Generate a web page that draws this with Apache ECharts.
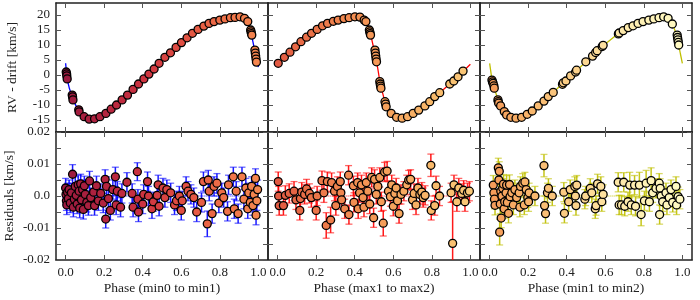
<!DOCTYPE html>
<html><head><meta charset="utf-8">
<script src="https://cdn.jsdelivr.net/npm/echarts@6/dist/echarts.min.js"></script>
<style>html,body{margin:0;padding:0;background:#fff}#c{width:700px;height:300px}</style>
</head><body><div id="c"></div>
<script>
// ---------------- data ----------------
const xTicks = [0, 0.2, 0.4, 0.6, 0.8, 1.0];
const rvTicks = [-15, -10, -5, 0, 5, 10, 15, 20];
const resTicks = [-0.02, -0.015, -0.01, -0.005, 0, 0.005, 0.01, 0.015, 0.02];
const resLabelTicks = [-0.02, -0.01, 0, 0.01, 0.02];
const panelTitles = ['Phase (min0 to min1)', 'Phase (max1 to max2)', 'Phase (min1 to min2)'];
const rvName = 'RV - drift [km/s]';
const resName = 'Residuals [km/s]';

// RV points [phase, km/s]
const rv1 = [[0.003,1.0],[0.005,0.4],[0.006,-0.3],[0.008,-1.3],[0.034,-6.7],[0.036,-7.3],[0.038,-8.3],
[0.068,-11.6],[0.070,-12.3],[0.096,-13.9],[0.122,-14.7],[0.150,-14.6],[0.178,-13.9],[0.209,-12.8],[0.236,-11.4],
[0.264,-10.0],[0.293,-8.3],[0.321,-6.7],[0.350,-4.8],[0.378,-3.0],[0.406,-1.3],[0.432,0.3],[0.459,2.0],[0.485,3.9],
[0.515,5.9],[0.544,7.4],[0.573,9.2],[0.601,10.8],[0.630,12.4],[0.658,13.9],[0.687,15.2],[0.717,16.3],[0.744,17.2],
[0.770,17.8],[0.800,18.3],[0.827,18.7],[0.855,19.1],[0.879,19.2],[0.905,19.4],[0.928,18.9],[0.945,17.8],
[0.960,15.0],[0.962,14.4],[0.964,13.8],[0.966,13.3],[0.982,8.3],[0.984,7.3],[0.986,6.3],[0.988,5.3],[0.990,4.3]];
const rv2 = [[0.003,3.9],[0.035,5.9],[0.064,7.6],[0.093,9.4],[0.121,11.1],[0.150,12.6],[0.176,13.9],[0.205,15.2],
[0.233,16.4],[0.259,17.2],[0.289,17.9],[0.314,18.3],[0.344,18.8],[0.371,19.1],[0.401,19.4],[0.427,19.3],[0.449,18.3],
[0.458,17.8],[0.476,15.0],[0.478,14.4],[0.480,13.8],[0.482,13.3],[0.505,8.3],[0.507,7.3],[0.509,6.3],[0.511,5.3],
[0.513,4.4],[0.530,-2.2],[0.532,-3.0],[0.534,-3.7],[0.536,-4.4],[0.557,-8.9],[0.560,-9.7],[0.563,-10.6],
[0.589,-12.8],[0.617,-14.1],[0.646,-14.4],[0.674,-13.9],[0.703,-12.8],[0.732,-11.7],[0.764,-10.3],[0.789,-8.9],
[0.815,-7.2],[0.841,-5.9],[0.893,-3.0],[0.914,-2.0],[0.936,-0.6],[0.962,1.3]];
const rv3 = [[0.012,-1.7],[0.015,-2.3],[0.018,-2.8],[0.022,-3.6],[0.024,-4.4],[0.043,-8.3],[0.045,-8.9],[0.047,-9.4],
[0.057,-10.3],[0.076,-12.2],[0.088,-13.3],[0.110,-14.1],[0.137,-14.4],[0.166,-14.1],[0.195,-13.1],[0.221,-12.0],
[0.252,-10.3],[0.282,-8.7],[0.304,-7.2],[0.330,-5.8],[0.378,-3.1],[0.382,-2.6],[0.396,-2.0],[0.420,-0.3],[0.446,1.0],
[0.451,1.6],[0.499,4.4],[0.534,6.3],[0.550,7.5],[0.558,8.1],[0.584,9.5],[0.589,9.9],[0.668,13.7],[0.672,14.0],
[0.693,14.8],[0.719,15.8],[0.744,16.4],[0.770,17.2],[0.796,17.8],[0.826,18.3],[0.852,18.7],[0.879,19.1],[0.903,19.4],
[0.926,18.9],[0.948,17.0],[0.973,13.3],[0.975,12.5],[0.977,11.7],[0.979,10.9],[0.981,10.0]];

// model curves [phase, km/s]
const model1 = [[0.0,3.9],[0.005,0.3],[0.012,-2.5],[0.02,-4.6],[0.036,-7.5],[0.05,-9.8],[0.069,-12],[0.085,-13.3],
[0.1,-14.1],[0.122,-14.7],[0.14,-14.8],[0.16,-14.5],[0.18,-13.9],[0.21,-12.8],[0.25,-10.7],[0.3,-7.9],[0.35,-4.8],
[0.4,-1.6],[0.45,1.5],[0.5,4.9],[0.55,7.8],[0.6,10.7],[0.65,13.4],[0.7,15.7],[0.75,17.3],[0.8,18.3],[0.85,19.0],
[0.88,19.3],[0.905,19.4],[0.925,19.0],[0.94,18.2],[0.95,16.8],[0.96,14.7],[0.97,11.6],[0.98,8.5],[0.99,5.6],[1.0,2.6]];
const model2 = [[0.0,3.6],[0.05,6.8],[0.1,9.8],[0.15,12.6],[0.2,15.0],[0.25,16.9],[0.3,18.1],[0.35,18.9],[0.4,19.4],
[0.425,19.4],[0.445,18.9],[0.46,17.9],[0.47,16.4],[0.48,14.2],[0.49,11.4],[0.5,8.5],[0.51,5.7],[0.52,2.0],[0.53,-2.0],
[0.54,-4.9],[0.55,-7.3],[0.56,-9.4],[0.575,-11.5],[0.59,-12.9],[0.61,-13.9],[0.63,-14.3],[0.65,-14.3],[0.67,-14.0],
[0.7,-13.0],[0.75,-11.0],[0.8,-8.4],[0.85,-5.4],[0.9,-2.6],[0.95,0.4],[1.0,3.6]];
const model3 = [[0.0,3.9],[0.01,-0.6],[0.02,-3.5],[0.03,-5.6],[0.045,-8.6],[0.06,-10.7],[0.08,-12.6],[0.1,-13.8],
[0.12,-14.4],[0.14,-14.5],[0.16,-14.2],[0.2,-12.9],[0.25,-10.4],[0.3,-7.5],[0.35,-4.6],[0.4,-1.6],[0.45,1.4],[0.5,4.4],
[0.55,7.4],[0.6,10.3],[0.65,12.9],[0.7,15.1],[0.75,16.6],[0.8,17.9],[0.85,18.7],[0.9,19.4],[0.92,19.2],[0.94,18.0],
[0.955,16.0],[0.97,13.3],[0.98,10.3],[0.99,7.0],[1.0,3.9]];

// residuals [phase, km/s, error]
const res1 = [[0.000,0.0025,0.003],[0.002,0.0005,0.003],[0.004,-0.0015,0.003],[0.006,-0.0028,0.003],[0.010,0.0012,0.0028],
[0.014,-0.0008,0.003],[0.018,0.0020,0.003],[0.024,-0.0022,0.003],[0.030,0.0010,0.003],[0.036,0.0068,0.003],
[0.040,-0.0035,0.003],[0.045,-0.0010,0.003],[0.050,0.0030,0.003],[0.055,0.0002,0.003],[0.060,-0.0025,0.003],
[0.065,0.0035,0.003],[0.070,0.0015,0.003],[0.073,-0.0038,0.003],[0.078,0.0038,0.003],[0.082,-0.0012,0.003],
[0.088,0.0020,0.003],[0.092,-0.0042,0.003],[0.097,0.0032,0.003],[0.102,0.0005,0.003],[0.110,-0.0020,0.003],
[0.118,-0.0030,0.003],[0.124,0.0047,0.003],[0.130,-0.0005,0.003],[0.145,0.0012,0.003],[0.150,-0.0030,0.003],
[0.160,0.0032,0.003],[0.170,-0.0015,0.003],[0.182,0.0008,0.003],[0.195,-0.0022,0.003],[0.205,0.0052,0.003],
[0.208,-0.0072,0.0028],[0.212,0.0030,0.003],[0.222,-0.0008,0.003],[0.232,-0.0045,0.003],[0.245,0.0020,0.003],
[0.258,0.0060,0.003],[0.262,-0.0028,0.003],[0.268,0.0015,0.003],[0.285,-0.0035,0.003],[0.292,0.0008,0.003],
[0.318,0.0043,0.003],[0.345,0.0008,0.003],[0.350,-0.0035,0.003],[0.372,0.0076,0.0028],[0.375,-0.0010,0.003],
[0.378,-0.0050,0.003],[0.400,-0.0025,0.003],[0.405,0.0005,0.003],[0.425,0.0045,0.003],[0.430,0.0000,0.003],
[0.448,-0.0040,0.003],[0.455,-0.0018,0.003],[0.475,0.0002,0.003],[0.480,0.0035,0.003],[0.485,-0.0032,0.003],
[0.505,0.0025,0.003],[0.515,-0.0005,0.003],[0.525,0.0020,0.003],[0.545,0.0010,0.003],[0.565,-0.0028,0.003],
[0.575,-0.0015,0.003],[0.590,0.0000,0.003],[0.600,-0.0045,0.003],[0.605,-0.0015,0.003],[0.625,0.0030,0.003],
[0.635,0.0015,0.003],[0.650,0.0005,0.003],[0.665,-0.0005,0.003],[0.680,-0.0050,0.003],[0.705,-0.0020,0.003],
[0.715,0.0045,0.003],[0.735,-0.0087,0.004],[0.740,0.0050,0.003],[0.745,0.0015,0.003],[0.760,-0.0055,0.003],
[0.770,0.0030,0.003],[0.785,0.0040,0.003],[0.795,-0.0022,0.003],[0.810,0.0010,0.003],[0.820,-0.0005,0.003],
[0.840,-0.0048,0.003],[0.845,0.0035,0.003],[0.870,0.0060,0.003],[0.875,-0.0040,0.003],[0.885,0.0015,0.003],
[0.895,-0.0055,0.003],[0.915,0.0060,0.003],[0.925,-0.0010,0.003],[0.935,0.0025,0.003],[0.945,-0.0040,0.003],
[0.950,0.0010,0.003],[0.958,-0.0020,0.003],[0.965,0.0030,0.003],[0.972,-0.0030,0.003],[0.978,0.0005,0.003],
[0.985,0.0055,0.003],[0.988,-0.0060,0.003],[0.992,-0.0015,0.003],[0.996,0.0020,0.003]];
const res2 = [[0.003,0.0045,0.003],[0.005,0.0000,0.003],[0.008,-0.0030,0.003],[0.030,-0.0030,0.003],[0.040,0.0002,0.003],
[0.060,0.0008,0.003],[0.085,0.0015,0.003],[0.095,-0.0012,0.003],[0.115,-0.0045,0.003],[0.118,-0.0008,0.003],
[0.125,0.0012,0.003],[0.140,0.0005,0.003],[0.150,0.0022,0.003],[0.165,0.0008,0.003],[0.175,-0.0005,0.003],
[0.200,-0.0045,0.003],[0.205,0.0000,0.003],[0.230,0.0048,0.003],[0.240,0.0010,0.003],[0.252,-0.0092,0.004],
[0.258,0.0045,0.003],[0.275,-0.0075,0.004],[0.280,0.0042,0.003],[0.295,0.0015,0.003],[0.302,-0.0030,0.003],
[0.310,0.0030,0.003],[0.325,0.0045,0.003],[0.328,0.0010,0.003],[0.332,-0.0012,0.003],[0.348,-0.0040,0.003],
[0.368,0.0065,0.003],[0.370,-0.0058,0.003],[0.393,0.0032,0.003],[0.396,-0.0020,0.003],[0.415,0.0042,0.003],
[0.418,-0.0040,0.003],[0.425,0.0010,0.003],[0.435,0.0035,0.003],[0.443,-0.0005,0.003],[0.448,-0.0035,0.003],
[0.460,0.0042,0.003],[0.468,0.0015,0.003],[0.478,-0.0025,0.003],[0.488,0.0058,0.003],[0.498,-0.0068,0.003],
[0.503,0.0052,0.003],[0.512,0.0005,0.003],[0.520,0.0030,0.003],[0.530,0.0058,0.003],[0.538,-0.0018,0.003],
[0.548,-0.0085,0.004],[0.555,0.0075,0.003],[0.568,0.0078,0.003],[0.575,0.0015,0.003],[0.585,-0.0002,0.003],
[0.592,0.0035,0.003],[0.600,-0.0032,0.003],[0.608,0.0008,0.003],[0.615,0.0025,0.003],[0.622,-0.0015,0.003],
[0.630,-0.0055,0.003],[0.640,0.0005,0.003],[0.655,0.0015,0.003],[0.670,0.0035,0.003],[0.680,0.0050,0.003],
[0.690,0.0052,0.003],[0.700,-0.0012,0.003],[0.708,0.0008,0.003],[0.718,-0.0028,0.003],[0.728,0.0025,0.003],
[0.738,0.0005,0.003],[0.748,0.0012,0.003],[0.755,-0.0005,0.003],[0.765,0.0002,0.003],[0.795,0.0096,0.0035],
[0.797,-0.0045,0.003],[0.815,-0.0030,0.003],[0.822,0.0032,0.003],[0.840,0.0000,0.003],[0.900,0.0010,0.003],
[0.908,-0.0148,0.013],[0.915,0.0035,0.003],[0.930,-0.0018,0.003],[0.940,0.0025,0.003],[0.955,0.0008,0.003],
[0.965,0.0018,0.003],[0.972,-0.0018,0.003],[0.985,0.0010,0.003],[0.995,0.0015,0.003]];
const res3 = [[0.019,0.0034,0.003],[0.022,0.0010,0.003],[0.025,-0.0010,0.003],[0.028,-0.0029,0.003],[0.045,0.0088,0.003],
[0.048,0.0050,0.003],[0.050,0.0077,0.003],[0.052,-0.0113,0.004],[0.055,-0.0025,0.003],[0.058,0.0015,0.003],
[0.060,-0.0069,0.003],[0.064,0.0000,0.003],[0.068,0.0024,0.003],[0.072,0.0037,0.003],[0.075,-0.0040,0.003],
[0.078,-0.0018,0.003],[0.085,0.0010,0.003],[0.088,0.0034,0.003],[0.092,-0.0020,0.003],[0.098,-0.0054,0.003],
[0.103,0.0036,0.003],[0.106,-0.0002,0.003],[0.115,0.0010,0.003],[0.123,-0.0028,0.003],[0.131,0.0020,0.003],
[0.140,-0.0005,0.003],[0.153,0.0010,0.003],[0.157,-0.0035,0.003],[0.160,0.0030,0.003],[0.172,0.0040,0.003],
[0.180,-0.0028,0.003],[0.183,0.0044,0.003],[0.190,0.0020,0.003],[0.198,-0.0005,0.003],[0.202,-0.0018,0.003],
[0.205,0.0010,0.003],[0.235,0.0000,0.003],[0.282,0.0095,0.0035],[0.285,-0.0030,0.003],[0.290,-0.0055,0.003],
[0.300,0.0010,0.003],[0.305,0.0024,0.003],[0.325,0.0000,0.003],[0.385,0.0012,0.003],[0.388,-0.0054,0.003],
[0.410,-0.0018,0.003],[0.418,0.0020,0.003],[0.442,0.0030,0.003],[0.445,0.0000,0.003],[0.448,-0.0030,0.003],
[0.452,0.0034,0.003],[0.494,-0.0010,0.003],[0.498,0.0000,0.003],[0.522,0.0024,0.003],[0.530,0.0010,0.003],
[0.548,-0.0040,0.003],[0.552,-0.0030,0.003],[0.560,0.0038,0.003],[0.577,0.0030,0.003],[0.582,-0.0018,0.003],
[0.589,0.0005,0.003],[0.667,0.0043,0.003],[0.672,-0.0028,0.003],[0.684,-0.0028,0.003],[0.696,0.0043,0.003],
[0.701,-0.0032,0.003],[0.718,-0.0018,0.003],[0.727,0.0034,0.004],[0.735,-0.0028,0.003],[0.752,0.0034,0.003],
[0.757,-0.0032,0.003],[0.777,0.0034,0.004],[0.786,-0.0058,0.0035],[0.803,-0.0015,0.003],[0.812,0.0040,0.004],
[0.829,-0.0018,0.003],[0.838,0.0048,0.004],[0.846,0.0010,0.003],[0.863,0.0024,0.003],[0.880,0.0040,0.003],
[0.882,-0.0058,0.003],[0.885,0.0024,0.003],[0.890,0.0000,0.003],[0.898,-0.0018,0.003],[0.915,0.0010,0.003],
[0.920,-0.0028,0.003],[0.932,-0.0005,0.003],[0.941,0.0020,0.003],[0.950,-0.0020,0.003],[0.967,0.0030,0.003],
[0.970,-0.0028,0.003],[0.978,-0.0002,0.003],[0.987,-0.0010,0.003]];
const zeroLine = [[0, 0], [1, 0]];

// ---------------- styling ----------------
const FONT = 'Liberation Serif';
const TXT = '#222';
const lineColors = ['#0000ff', '#ff0000', '#bfbf00'];
const markerRamps = [
  ['#9b1a3f', '#b3243f', '#cc3340', '#e04e42', '#ee6d47', '#f5874f'],
  ['#e25a42', '#ec7549', '#f38e52', '#f6a45d', '#f8b96a', '#f9c878'],
  ['#f59a58', '#f8b46a', '#fbcd85', '#fde2a0', '#fef1b6', '#fffac4']
];
const rvSets = [rv1, rv2, rv3];
const modelSets = [model1, model2, model3];
const resSets = [res1, res2, res3];

const PL = 56, PW = 212, TOPT = 3, TOPH = 129, BOTT = 132, BOTH = 128;

const grid = [], xAxis = [], yAxis = [], series = [], visualMap = [];
const axLine = {show: true, onZero: false, lineStyle: {color: '#222', width: 1.5}};
const tick = vals => ({show: true, inside: true, length: 5, customValues: vals, lineStyle: {color: '#555', width: 1}});
const lab = {fontFamily: FONT, fontSize: 13, color: TXT};

for (let g = 0; g < 6; g++) {
  const bottom = g >= 3, p = g % 3;
  grid.push({left: PL + PW * p, width: PW, top: bottom ? BOTT : TOPT, height: bottom ? BOTH : TOPH});
  xAxis.push({type: 'value', gridIndex: g, min: -0.05, max: 1.05, position: 'bottom',
    axisLine: axLine, axisTick: tick(xTicks), splitLine: {show: false},
    axisLabel: Object.assign({show: bottom, customValues: xTicks, margin: 6, formatter: v => v.toFixed(1)}, lab),
    name: bottom ? panelTitles[p] : '', nameLocation: 'middle', nameGap: 21,
    nameTextStyle: {fontFamily: FONT, fontSize: 13.5, color: TXT}});
  xAxis.push({type: 'value', gridIndex: g, min: -0.05, max: 1.05, position: 'top',
    axisLine: axLine, axisTick: tick(xTicks), axisLabel: {show: false}, splitLine: {show: false}});
  const yv = bottom ? resTicks : rvTicks;
  const yl = bottom ? resLabelTicks : rvTicks;
  yAxis.push({type: 'value', gridIndex: g, min: bottom ? -0.02 : -19, max: bottom ? 0.02 : 24, position: 'left',
    axisLine: axLine, axisTick: tick(yv), splitLine: {show: false},
    axisLabel: Object.assign({show: p === 0, customValues: yl, margin: 6,
      formatter: v => bottom ? (Math.abs(v) < 1e-9 ? '0.0' : v.toFixed(2)) : String(v)}, lab),
    name: p === 0 ? (bottom ? resName : rvName) : '', nameLocation: 'middle', nameGap: bottom ? 40 : 37,
    nameTextStyle: {fontFamily: FONT, fontSize: 13.5, color: TXT}});
  yAxis.push({type: 'value', gridIndex: g, min: bottom ? -0.02 : -19, max: bottom ? 0.02 : 24, position: 'right',
    axisLine: axLine, axisTick: tick(yv), axisLabel: {show: false}, splitLine: {show: false}});
}

for (let p = 0; p < 3; p++) {
  const gt = p, gb = p + 3;
  const col = lineColors[p];
  series.push({type: 'line', xAxisIndex: 2 * gt, yAxisIndex: 2 * gt, data: modelSets[p], showSymbol: false,
    lineStyle: {color: col, width: 1.3}, silent: true, animation: false, z: 2});
  const topIdx = series.length;
  series.push({type: 'scatter', xAxisIndex: 2 * gt, yAxisIndex: 2 * gt, data: rvSets[p], symbolSize: 8,
    itemStyle: {borderColor: '#000', borderWidth: 1.3, opacity: 1}, animation: false, z: 3});
  series.push({type: 'line', xAxisIndex: 2 * gb, yAxisIndex: 2 * gb, data: zeroLine, showSymbol: false,
    lineStyle: {color: col, width: 1, type: 'dotted'}, animation: false, z: 1});
  series.push({type: 'custom', xAxisIndex: 2 * gb, yAxisIndex: 2 * gb, data: resSets[p], clip: true,
    encode: {x: 0, y: 1}, animation: false, z: 2,
    renderItem: (params, api) => {
      const x = api.value(0), y = api.value(1), e = api.value(2);
      const a = api.coord([x, y + e]), b = api.coord([x, y - e]);
      const st = {stroke: col, lineWidth: 1.5, opacity: 0.9};
      const cs = {stroke: col, lineWidth: 1.3, opacity: 0.6};
      return {type: 'group', children: [
        {type: 'line', shape: {x1: a[0], y1: a[1], x2: b[0], y2: b[1]}, style: st},
        {type: 'line', shape: {x1: a[0] - 3.5, y1: a[1], x2: a[0] + 3.5, y2: a[1]}, style: cs},
        {type: 'line', shape: {x1: b[0] - 3.5, y1: b[1], x2: b[0] + 3.5, y2: b[1]}, style: cs}
      ]};
    }});
  const botIdx = series.length;
  series.push({type: 'scatter', xAxisIndex: 2 * gb, yAxisIndex: 2 * gb, data: resSets[p].map(d => [d[0], d[1]]),
    symbolSize: 8, itemStyle: {borderColor: '#000', borderWidth: 1.3, opacity: 1}, animation: false, z: 3});
  visualMap.push({type: 'continuous', show: false, dimension: 0, min: 0, max: 1,
    seriesIndex: [topIdx, botIdx], inRange: {color: markerRamps[p]}});
}

const chart = echarts.init(document.getElementById('c'), null, {renderer: 'canvas'});
chart.setOption({animation: false, backgroundColor: '#fff', grid, xAxis, yAxis, series, visualMap});
</script>
</body></html>
